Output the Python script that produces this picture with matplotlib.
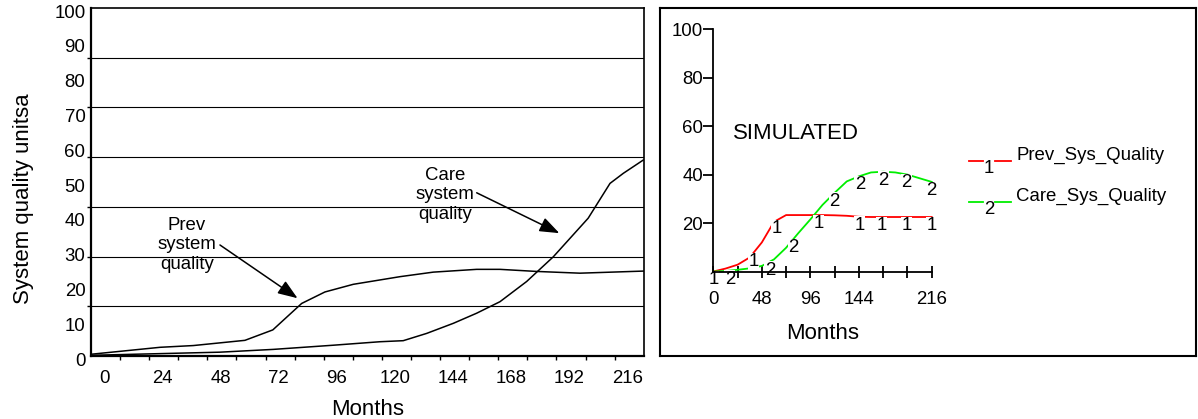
import numpy as np
import matplotlib
matplotlib.use('Agg')
import matplotlib.pyplot as plt
from matplotlib.lines import Line2D
from matplotlib.transforms import ScaledTranslation

plt.rcParams['font.family'] = ['Liberation Sans', 'DejaVu Sans']

# ---------------- Left chart (reported curves) ----------------
prev_months = [-5.4, 23.1, 36.8, 58.1, 69.6, 81.5, 91.1, 102.8, 122.1, 135.8, 153.7, 163.3, 178.4, 196.3, 222.4]
prev_quality = [0.5, 2.5, 3.0, 4.5, 7.5, 15.1, 18.4, 20.6, 22.8, 24.1, 24.9, 24.9, 24.3, 23.8, 24.4]
care_months = [-5.4, 47.8, 69.8, 94.6, 113.8, 123.4, 133.1, 144.1, 153.7, 163.3, 174.3, 185.3, 199.7, 208.7, 214.2, 222.4]
care_quality = [0.2, 1.1, 1.9, 3.1, 4.1, 4.4, 6.5, 9.4, 12.3, 15.6, 21.4, 28.5, 39.6, 49.6, 52.5, 56.3]
left_xticks = [0, 24, 48, 72, 96, 120, 144, 168, 192, 216]
left_yticks = [0, 10, 20, 30, 40, 50, 60, 70, 80, 90, 100]

# ---------------- Right chart (simulated) ----------------
sim_months = [0, 12, 24, 36, 48, 60, 72, 84, 96, 108, 120, 132, 144, 156, 168, 180, 192, 204, 216]
sim_prev = [0, 1.2, 2.8, 5.8, 12.0, 20.5, 23.3, 23.3, 23.3, 23.3, 23.2, 23.0, 22.6, 22.5, 22.5, 22.5, 22.5, 22.5, 22.5]
sim_care = [0, 0.2, 0.7, 1.3, 2.3, 5.0, 9.8, 15.8, 21.5, 27.5, 32.5, 37.2, 39.3, 40.9, 41.2, 40.9, 40.0, 38.5, 37.0]
prev_label_months = [0, 39.6, 62.7, 103.9, 145, 166.5, 191.3, 216]
care_label_months = [16.5, 56, 79, 120, 145, 168, 191.3, 216]
right_xticks = [0, 24, 48, 72, 96, 120, 144, 168, 192, 216]
right_xticklabels = ['0', '', '48', '', '96', '', '144', '', '', '216']
right_yticks = [20, 40, 60, 80, 100]
series_names = ['Prev_Sys_Quality', 'Care_Sys_Quality']
series_colors = ['#ff0000', '#00ee00']

W, H = 1198, 419
fig = plt.figure(figsize=(W / 100, H / 100), dpi=100)

FS = 13.4
BIG = 16

# ---------------- Left axes ----------------
ax = fig.add_axes([91 / W, 1 - 356 / H, (643.7 - 91) / W, 348 / H])
ax.set_xlim(-5.4, 222.6)
ax.set_ylim(0, 100)
ax.plot(prev_months, prev_quality, color='black', lw=1.1, zorder=3)
ax.plot(care_months, care_quality, color='black', lw=1.1, zorder=3)

ax.set_xticks(left_xticks)
ax.set_xticklabels([str(v) for v in left_xticks], fontsize=FS)
ax.set_xticks(np.arange(-5.4 + 12, 222.6 - 1, 12), minor=True)
ax.set_yticks(left_yticks)
ax.set_yticklabels([str(v) for v in left_yticks], fontsize=FS)
ax.set_yticks(np.arange(1, 7) * 100 / 7, minor=True)
ax.tick_params(axis='both', which='major', length=0)
ax.tick_params(axis='x', which='major', pad=10)
ax.tick_params(axis='y', which='major', pad=4)
ax.tick_params(axis='both', which='minor', length=3, width=1, direction='out', color='black')
ax.grid(True, which='minor', axis='y', color='black', lw=0.8)
for lab in ax.get_yticklabels():
    lab.set_transform(lab.get_transform() + ScaledTranslation(0, -0.03, fig.dpi_scale_trans))
for s in ['left', 'bottom']:
    ax.spines[s].set_linewidth(1.6)
for s in ['top', 'right']:
    ax.spines[s].set_linewidth(1.2)
ax.set_xlabel('Months', fontsize=BIG, labelpad=9)
ax.set_ylabel('System quality unitsa', fontsize=BIG)
ax.yaxis.set_label_coords(-0.103, 0.451)

arrow_kw = dict(arrowstyle='-|>,head_length=0.8,head_width=0.3', color='black', lw=1.1,
                shrinkA=0, shrinkB=0, mutation_scale=15)
ax.text(34.2, 31.9, 'Prev\nsystem\nquality', ha='center', va='center', fontsize=FS, linespacing=1.2)
ax.annotate('', xy=(79.8, 16.6), xytext=(47.8, 31.9), arrowprops=arrow_kw)
ax.text(140.6, 46.3, 'Care\nsystem\nquality', ha='center', va='center', fontsize=FS, linespacing=1.2)
ax.annotate('', xy=(187.8, 35.3), xytext=(153.7, 46.9), arrowprops=arrow_kw)

# ---------------- Right panel box ----------------
box = fig.add_axes([660 / W, 1 - 356 / H, 536 / W, 348 / H], zorder=0)
box.set_xlim(660, 1196)
box.set_ylim(356, 8)
box.set_xticks([])
box.set_yticks([])
for s in box.spines.values():
    s.set_linewidth(1.5)

box.text(733.3, 133.3, 'SIMULATED', ha='left', va='center', fontsize=BIG)

# legend
leg_y = [160.7, 202.3]
for i, (name, col) in enumerate(zip(series_names, series_colors)):
    y = leg_y[i]
    box.add_line(Line2D([969.3, 983.3], [y, y], color=col, lw=1.3))
    box.add_line(Line2D([995, 1010.7], [y, y], color=col, lw=1.3))
    box.text(989, y - 1, str(i + 1), ha='center', va='top', fontsize=FS)
    box.text(1016, y - 5.6, name, ha='left', va='center', fontsize=FS)

# ---------------- Right inner axes ----------------
ax2 = fig.add_axes([713.3 / W, 1 - 271.5 / H, 218.4 / W, 242.2 / H], zorder=1)
ax2.patch.set_alpha(0)
ax2.set_xlim(0, 216)
ax2.set_ylim(0, 100)
for s in ['top', 'right']:
    ax2.spines[s].set_visible(False)
for s in ['left', 'bottom']:
    ax2.spines[s].set_linewidth(1.3)
    ax2.spines[s].set_zorder(2.5)

for data, labels, col, num in [(sim_prev, prev_label_months, series_colors[0], '1'),
                               (sim_care, care_label_months, series_colors[1], '2')]:
    ax2.plot(sim_months, data, color=col, lw=1.3, zorder=2, clip_on=False)
    for m in labels:
        v = np.interp(m, sim_months, data)
        ax2.text(m, v, num, ha='center', va='top', fontsize=FS, zorder=2.2,
                 bbox=dict(facecolor='white', edgecolor='none', pad=0.3))

ax2.set_xticks(right_xticks)
ax2.set_xticklabels(right_xticklabels, fontsize=FS)
ax2.set_yticks(right_yticks)
ax2.set_yticklabels([str(v) for v in right_yticks], fontsize=FS)
ax2.tick_params(axis='x', direction='inout', length=8.5, width=1.3, pad=9.5)
ax2.tick_params(axis='y', direction='out', length=7.2, width=1.3, pad=0)
ax2.set_xlabel('Months', fontsize=BIG, labelpad=11)

fig.savefig('out.png', dpi=100)
